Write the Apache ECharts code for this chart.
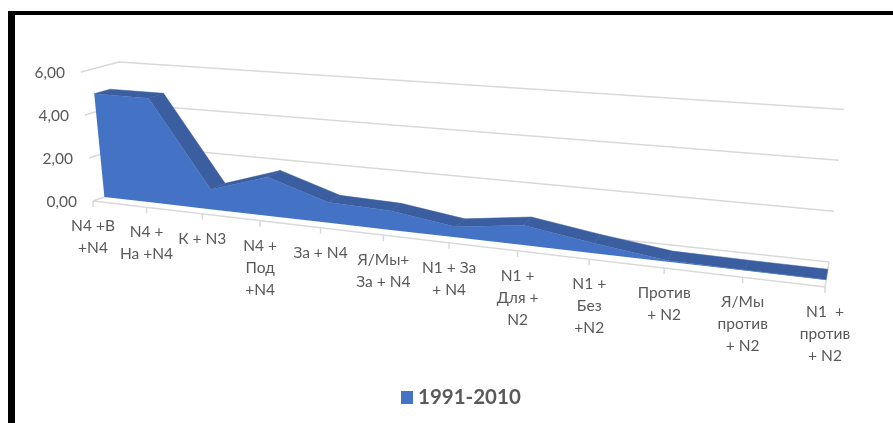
<!DOCTYPE html>
<html>
<head>
<meta charset="utf-8">
<style>
  html, body { margin: 0; padding: 0; background: #fff; }
  #chart { width: 893px; height: 423px; }
</style>
<script src="https://cdn.jsdelivr.net/npm/echarts@6/dist/echarts.min.js"></script>
</head>
<body>
<div id="chart"></div>
<script>
const categories = ['N4 +В\n+N4', 'N4 +\nНа +N4', 'К + N3', 'N4 +\nПод\n+N4', 'За + N4', 'Я/Мы+\nЗа + N4',
  'N1 + За\n+ N4', 'N1 +\nДля +\nN2', 'N1 +\nБез\n+N2', 'Против\n+ N2', 'Я/Мы\nпротив\n+ N2', 'N1  +\nпротив\n+ N2'];
const values = [4.85, 4.85, 0.9, 1.75, 0.9, 0.83, 0.45, 0.83, 0.41, 0.05, 0.02, 0.01];
const yTicks = [0, 2, 4, 6];
const yLabels = ['0,00', '2,00', '4,00', '6,00'];
const seriesName = '1991-2010';

// corners of the 3d box on screen, [left, right] for floor/top at front/back
const floorFront = [[93, 201], [825, 287]];
const floorBack = [[133, 187], [829, 262]];
const topFront = [[81, 72], [839, 132]];
const topBack = [[119, 62], [844, 109.5]];
const persp = 1.267; // categories get wider to the right
const areaFront = 0.285; // depth of the area band
const areaBack = 0.7;

const lerp = (a, b, t) => [a[0] + (b[0] - a[0]) * t, a[1] + (b[1] - a[1]) * t];

function project(s, h, d) {
  const t = s / (s + persp * (1 - s));
  const bottom = lerp(lerp(floorFront[0], floorFront[1], t), lerp(floorBack[0], floorBack[1], t), d);
  const top = lerp(lerp(topFront[0], topFront[1], t), lerp(topBack[0], topBack[1], t), d);
  return lerp(bottom, top, h);
}

// axis value -> grid pixel through echarts -> projected point
function toScreen(params, api, x, y, d) {
  const cs = params.coordSys;
  const p = api.coord([x, y]);
  return project((p[0] - cs.x) / cs.width, (cs.y + cs.height - p[1]) / cs.height, d);
}

const lineStyle = { stroke: '#D9D9D9', lineWidth: 1.5, fill: null };
const last = categories.length - 1;

const chart = echarts.init(document.getElementById('chart'));

chart.setOption({
  animation: false,
  color: ['#4472C4'],
  graphic: [
    { type: 'rect', shape: { x: 8, y: 11, width: 885, height: 4 }, style: { fill: '#000' } },
    { type: 'rect', shape: { x: 8, y: 11, width: 7, height: 412 }, style: { fill: '#000' } }
  ],
  legend: {
    data: [seriesName],
    left: 396,
    top: 382,
    icon: 'rect',
    itemWidth: 12,
    itemHeight: 13,
    itemGap: 8,
    selectedMode: false,
    textStyle: { fontFamily: 'Lato', fontSize: 20.5, fontWeight: 'bold', color: '#595959' }
  },
  grid: { left: 0, right: 0, top: 0, bottom: 0 },
  xAxis: { type: 'category', data: categories, boundaryGap: false, show: false },
  yAxis: { type: 'value', min: 0, max: 6, interval: 2, show: false },
  series: [
    {
      // walls: gridlines and value labels
      type: 'custom',
      name: 'gridlines',
      silent: true,
      data: yTicks.map(v => [0, v]),
      renderItem(params, api) {
        const v = yTicks[params.dataIndex];
        const a = toScreen(params, api, 0, v, 0);
        const b = toScreen(params, api, 0, v, 1);
        const c = toScreen(params, api, last, v, 1);
        return {
          type: 'group',
          children: [
            { type: 'polyline', shape: { points: [a, b, c] }, style: lineStyle },
            {
              type: 'text',
              style: {
                x: a[0] - 16, y: a[1] + 1, text: yLabels[params.dataIndex], align: 'right', verticalAlign: 'middle',
                fontFamily: 'Lato', fontSize: 15.5, fill: '#595959'
              }
            }
          ]
        };
      }
    },
    {
      // floor: front edge, ticks and category labels
      type: 'custom',
      name: 'floor',
      silent: true,
      data: categories.map((c, i) => [i, 0]),
      renderItem(params, api) {
        const i = params.dataIndex;
        const a = toScreen(params, api, i, 0, 0);
        const children = [
          { type: 'line', shape: { x1: a[0], y1: a[1], x2: a[0], y2: a[1] + 6 }, style: lineStyle },
          {
            type: 'text',
            style: {
              x: a[0], y: a[1] + 14, text: categories[i], align: 'center', verticalAlign: 'top',
              lineHeight: 22, fontFamily: 'Lato', fontSize: 15.5, fill: '#595959'
            }
          }
        ];
        if (i === 0) {
          const r = toScreen(params, api, last, 0, 0);
          const rb = toScreen(params, api, last, 0, 1);
          children.push({ type: 'polyline', shape: { points: [a, r, rb] }, style: lineStyle });
        }
        return { type: 'group', children };
      }
    },
    {
      type: 'custom',
      name: seriesName,
      silent: true,
      itemStyle: { color: '#4472C4' },
      data: values.map((v, i) => [i, v]),
      encode: { x: 0, y: 1 },
      renderItem(params, api) {
        if (params.dataIndex !== 0) return null;
        const children = [];
        const front = values.map((v, i) => toScreen(params, api, i, v, areaFront));
        const back = values.map((v, i) => toScreen(params, api, i, v, areaBack));
        const base = values.map((v, i) => toScreen(params, api, i, 0, areaFront));
        for (let i = 0; i < last; i++) {
          children.push({
            type: 'polygon',
            shape: { points: [front[i], front[i + 1], back[i + 1], back[i]] },
            style: { fill: '#3A5E9F', stroke: '#3A5E9F', lineWidth: 0.5 }
          });
        }
        children.push({
          type: 'polygon',
          shape: { points: front.concat(base.slice().reverse()) },
          style: { fill: '#4472C4' }
        });
        return { type: 'group', children };
      }
    }
  ]
});
</script>
</body>
</html>
